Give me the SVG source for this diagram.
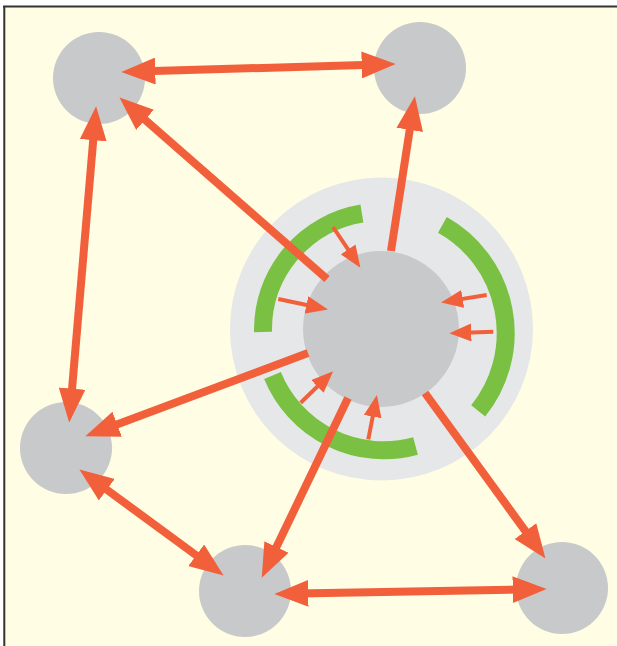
<svg xmlns="http://www.w3.org/2000/svg" width="617" height="646" viewBox="0 0 617 646">
  <style>
    .node { fill: #c8c9cb; }
    .ring { fill: #e6e7e9; }
    .arc { fill: none; stroke: #7ac143; stroke-width: 18; stroke-linecap: butt; }
    .big { stroke: #f1603b; stroke-width: 8; fill: none; }
    .small { stroke: #f1603b; stroke-width: 4; fill: none; }
    .frame { stroke: #333333; stroke-width: 2; fill: none; }
  </style>
  <defs>
    <marker id="headBig" markerUnits="userSpaceOnUse" markerWidth="34" markerHeight="27" refX="10" refY="13" orient="auto-start-reverse" viewBox="0 0 33 26">
      <path d="M0,0 L33,13 L0,26 Z" fill="#f1603b"/>
    </marker>
    <marker id="headSmall" markerUnits="userSpaceOnUse" markerWidth="22" markerHeight="18" refX="6" refY="8.5" orient="auto-start-reverse" viewBox="0 0 21 17">
      <path d="M0,0 L21,8.5 L0,17 Z" fill="#f1603b"/>
    </marker>
  </defs>

  <!-- page -->
  <rect x="0" y="0" width="617" height="646" fill="#ffffff"/>
  <rect x="4" y="6.5" width="613" height="640" fill="#fffde3"/>
  <path class="frame" d="M3,6.5 H617 M4.3,6 V646"/>

  <!-- hub: outer ring, arc segments, core -->
  <g id="hub">
    <circle class="ring" cx="381.5" cy="329" r="151.5"/>
    <path class="arc" d="M263,332 A118,118 0 0 1 361.9,213.5"/>
    <path class="arc" d="M442.4,224.9 A124,124 0 0 1 478.2,410.9"/>
    <path class="arc" d="M415.5,446 A120.2,120.2 0 0 1 272.5,375.5"/>
    <circle class="node" cx="381" cy="329" r="78"/>
  </g>

  <g id="node-top-left"><circle class="node" cx="99" cy="78" r="46"/></g>
  <g id="node-top-right"><circle class="node" cx="420" cy="68" r="46"/></g>
  <g id="node-left"><circle class="node" cx="66" cy="448" r="46"/></g>
  <g id="node-bottom"><circle class="node" cx="245" cy="591" r="46"/></g>
  <g id="node-bottom-right"><circle class="node" cx="562" cy="588" r="46"/></g>

  <g id="connectors">
    <!-- outer links -->
    <line class="big" x1="145" y1="71.3" x2="372" y2="64.7" marker-start="url(#headBig)" marker-end="url(#headBig)"/>
    <line class="big" x1="94.1" y1="129.9" x2="71.2" y2="398.8" marker-start="url(#headBig)" marker-end="url(#headBig)"/>
    <line class="big" x1="98.5" y1="483.6" x2="204.5" y2="561.4" marker-start="url(#headBig)" marker-end="url(#headBig)"/>
    <line class="big" x1="298" y1="593.6" x2="523" y2="589.4" marker-start="url(#headBig)" marker-end="url(#headBig)"/>
    <!-- hub outputs -->
    <line class="big" x1="327" y1="279" x2="137.3" y2="113.1" marker-end="url(#headBig)"/>
    <line class="big" x1="391" y1="251" x2="411.3" y2="119.7" marker-end="url(#headBig)"/>
    <line class="big" x1="308" y1="353" x2="107.5" y2="427.9" marker-end="url(#headBig)"/>
    <line class="big" x1="348" y1="398" x2="272" y2="556.3" marker-end="url(#headBig)"/>
    <line class="big" x1="425" y1="393" x2="531.5" y2="539.4" marker-end="url(#headBig)"/>
    <!-- hub inputs -->
    <line class="small" x1="333" y1="227" x2="351.6" y2="254.6" marker-end="url(#headSmall)"/>
    <line class="small" x1="278.3" y1="299" x2="312.6" y2="306.2" marker-end="url(#headSmall)"/>
    <line class="small" x1="486.7" y1="295" x2="456.5" y2="299.9" marker-end="url(#headSmall)"/>
    <line class="small" x1="493.3" y1="331.7" x2="465" y2="332.7" marker-end="url(#headSmall)"/>
    <line class="small" x1="300.7" y1="402.7" x2="321.9" y2="382.1" marker-end="url(#headSmall)"/>
    <line class="small" x1="368.3" y1="439.3" x2="373.9" y2="410.4" marker-end="url(#headSmall)"/>
  </g>
</svg>
